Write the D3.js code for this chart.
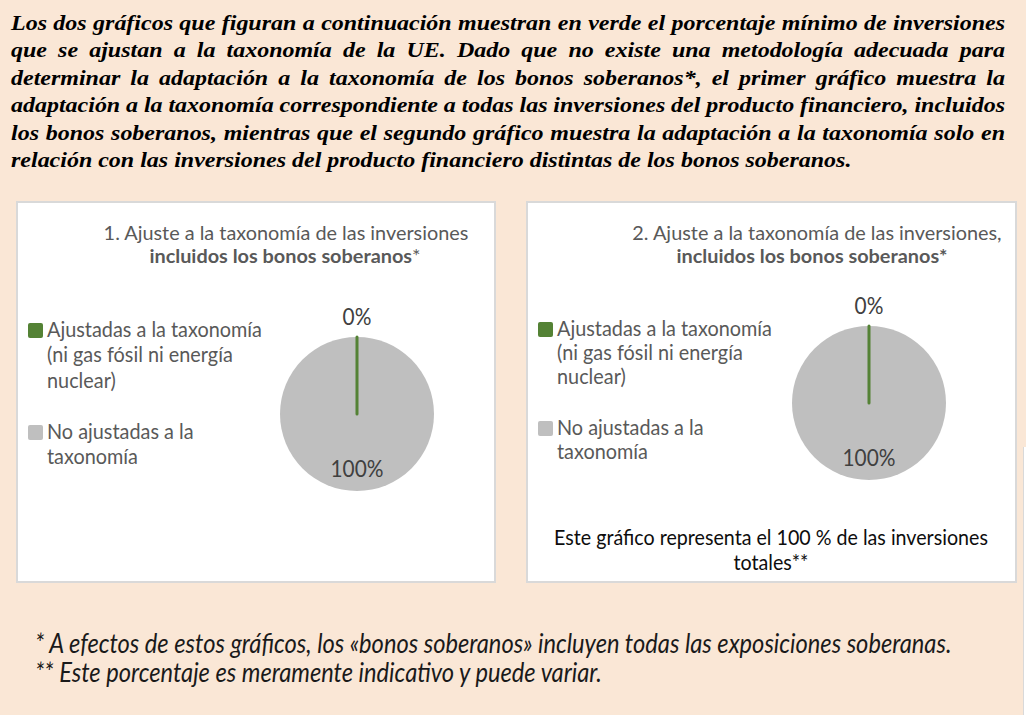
<!DOCTYPE html>
<html>
<head>
<meta charset="utf-8">
<script src="https://cdn.jsdelivr.net/npm/d3@7"></script>
<style>
  body { margin: 0; background: #fae7d6; }
  svg { display: block; }
</style>
</head>
<body>
<div id="chart"></div>
<script>
// text + values
const introLines = [
  "Los dos gráficos que figuran a continuación muestran en verde el porcentaje mínimo de inversiones",
  "que se ajustan a la taxonomía de la UE. Dado que no existe una metodología adecuada para",
  "determinar la adaptación a la taxonomía de los bonos soberanos*, el primer gráfico muestra la",
  "adaptación a la taxonomía correspondiente a todas las inversiones del producto financiero, incluidos",
  "los bonos soberanos, mientras que el segundo gráfico muestra la adaptación a la taxonomía solo en",
  "relación con las inversiones del producto financiero distintas de los bonos soberanos."
];
const categories = ["Ajustadas a la taxonomía (ni gas fósil ni energía nuclear)", "No ajustadas a la taxonomía"];
const legendLines = [
  ["Ajustadas a la taxonomía", "(ni gas fósil ni energía", "nuclear)"],
  ["No ajustadas a la", "taxonomía"]
];
const chart1Values = [0, 100];
const chart2Values = [0, 100];
const chart1Title = ["1. Ajuste a la taxonomía de las inversiones", "incluidos los bonos soberanos", "*"];
const chart2Title = ["2. Ajuste a la taxonomía de las inversiones,", "incluidos los bonos soberanos*", ""];
const chart2Note = ["Este gráfico representa el 100 % de las inversiones", "totales**"];
const footnotes = [
  "* A efectos de estos gráficos, los «bonos soberanos» incluyen todas las exposiciones soberanas.",
  "** Este porcentaje es meramente indicativo y puede variar."
];

var width = 1026
var height = 715
var sans = "Lato, 'Open Sans', sans-serif"
var serif = "'Liberation Serif', 'Times New Roman', serif"
// the picture is squeezed sideways, so most text is drawn taller then narrowed
var stretch = 1.1

var svg = d3.select("#chart")
  .append("svg")
    .attr("width", width)
    .attr("height", height)

svg.append("rect").attr("width", width).attr("height", height).attr("fill", "#fae7d6")

// width of a sample string at 100px
function measure(family, weight, style, sample) {
  var t = svg.append("text")
    .style("font-family", family).style("font-weight", weight).style("font-style", style)
    .style("font-size", "100px").text(sample);
  var w = t.node().getComputedTextLength();
  t.remove();
  return w;
}
// font size (before the sideways squeeze) that gives a sample string the wanted width
function fitSize(family, weight, style, sample, target, k) {
  return k * 100 * target / measure(family, weight, style, sample);
}
// a text node placed at x,y and squeezed sideways
function squeezed(parent, x, y, sx) {
  return parent.append("g")
    .attr("transform", "translate(" + x + "," + y + ") scale(" + sx + ",1)")
    .append("text");
}

var color = d3.scaleOrdinal().domain(categories).range(["#548235", "#bfbfbf"]);

// ---- intro paragraph, justified line by line
var introSize = 20.5
var introLeft = 11, introRight = 1005
var introSx = 841 / (measure(serif, "bold", "italic", introLines[5]) * introSize / 100)
introLines.forEach(function(line, i) {
  var t = squeezed(svg, introLeft, 30 + i * 27.4, introSx)
    .style("font-family", serif)
    .style("font-weight", "bold")
    .style("font-style", "italic")
    .style("font-size", introSize + "px")
    .attr("fill", "#000")
    .text(line);
  if (i < introLines.length - 1) {
    var natural = t.node().getComputedTextLength();
    var gaps = line.split(" ").length - 1;
    t.style("word-spacing", (((introRight - introLeft) / introSx - natural) / gaps) + "px");
  }
});

var sx = 1 / stretch
var titleSize = fitSize(sans, "normal", "normal", chart1Title[0], 365, 1)
var legendSize = fitSize(sans, "normal", "normal", legendLines[0][0], 215, stretch)
var labelSize = fitSize(sans, "normal", "normal", "100%", 53, stretch)
var noteSize = fitSize(sans, "normal", "normal", chart2Note[0], 434, stretch)

var panels = [
  { values: chart1Values, title: chart1Title, box: [17, 202, 478, 380], titleX: [286, 285], titleY: [240, 263],
    cx: 357, cy: 414, r: 77, legX: 28, legY: [337, 439], legGap: 25.5, note: null },
  { values: chart2Values, title: chart2Title, box: [527, 202, 489, 380], titleX: [817, 812], titleY: [240, 263],
    cx: 869, cy: 403, r: 77, legX: 538, legY: [336, 435], legGap: 23.8, note: chart2Note }
];

var pie = d3.pie().sort(null).value(function(d) { return d.value; });

panels.forEach(function(p) {
  var g = svg.append("g");

  g.append("rect")
    .attr("x", p.box[0]).attr("y", p.box[1])
    .attr("width", p.box[2]).attr("height", p.box[3])
    .attr("fill", "#fff")
    .attr("stroke", "#d9d9d9")
    .attr("stroke-width", 2);

  // title, second line bold
  g.append("text")
    .attr("x", p.titleX[0]).attr("y", p.titleY[0])
    .attr("text-anchor", "middle")
    .style("font-family", sans).style("font-size", titleSize + "px")
    .attr("fill", "#595959")
    .text(p.title[0]);
  var t2 = g.append("text")
    .attr("x", p.titleX[1]).attr("y", p.titleY[1])
    .attr("text-anchor", "middle")
    .style("font-family", sans).style("font-size", titleSize + "px")
    .attr("fill", "#595959");
  t2.append("tspan").style("font-weight", "bold").text(p.title[1]);
  if (p.title[2]) t2.append("tspan").text(p.title[2]);

  // legend
  categories.forEach(function(cat, i) {
    var y0 = p.legY[i];
    g.append("rect")
      .attr("x", p.legX).attr("y", y0 - 14)
      .attr("width", 15).attr("height", 15)
      .attr("rx", 2)
      .attr("fill", color(cat));
    var lt = squeezed(g, p.legX + 19, y0, sx)
      .style("font-family", sans).style("font-size", legendSize + "px")
      .attr("fill", "#595959");
    legendLines[i].forEach(function(line, j) {
      lt.append("tspan").attr("x", 0).attr("y", j * p.legGap).text(line);
    });
  });

  // pie
  var data_ready = pie(categories.map(function(c, i) { return { key: c, value: p.values[i] }; }));
  var arcGenerator = d3.arc().innerRadius(0).outerRadius(p.r);
  var outsideArc = d3.arc().innerRadius(p.r + 12).outerRadius(p.r + 12);
  var insideArc = d3.arc().innerRadius(63).outerRadius(63);

  var pg = g.append("g").attr("transform", "translate(" + p.cx + "," + p.cy + ")");

  // draw the big slice first so the zero slice line sits on top
  pg.selectAll("path")
    .data(data_ready.slice().reverse())
    .enter()
    .append("path")
      .attr("d", arcGenerator)
      .attr("fill", function(d) { return color(d.data.key); })
      .attr("stroke", function(d) { return d.data.value === 0 ? color(d.data.key) : "none"; })
      .attr("stroke-width", 3)
      .attr("stroke-linecap", "round")
      .attr("stroke-linejoin", "round");

  pg.selectAll("g.lbl")
    .data(data_ready)
    .enter()
    .append("g")
      .attr("class", "lbl")
      .attr("transform", function(d) {
        var c = d.data.value === 0 ? outsideArc.centroid(d) : insideArc.centroid(d);
        return "translate(" + c + ") scale(" + sx + ",1)";
      })
    .append("text")
      .attr("text-anchor", "middle")
      .style("font-family", sans).style("font-size", labelSize + "px")
      .attr("fill", "#404040")
      .text(function(d) { return d3.format(".0f")(d.data.value) + "%"; });

  if (p.note) {
    p.note.forEach(function(line, j) {
      squeezed(g, 771, 545 + j * 25, sx)
        .attr("text-anchor", "middle")
        .style("font-family", sans).style("font-size", noteSize + "px")
        .attr("fill", "#0d0d0d")
        .text(line);
    });
  }
});

// cropped edge at the right of the second panel
svg.append("rect").attr("x", 1023).attr("y", 447).attr("width", 3).attr("height", 268).attr("fill", "#fff")
svg.append("line").attr("x1", 1023.5).attr("x2", 1023.5).attr("y1", 447).attr("y2", 715)
  .attr("stroke", "#d9d9d9").attr("stroke-width", 1)

// footnotes
var footSize = fitSize(sans, "normal", "italic", footnotes[0], 917, stretch)
footnotes.forEach(function(line, i) {
  squeezed(svg, 35, 653 + i * 29, sx)
    .style("font-family", sans).style("font-style", "italic")
    .style("font-size", footSize + "px")
    .attr("fill", "#1a1a1a")
    .text(line);
});
</script>
</body>
</html>
